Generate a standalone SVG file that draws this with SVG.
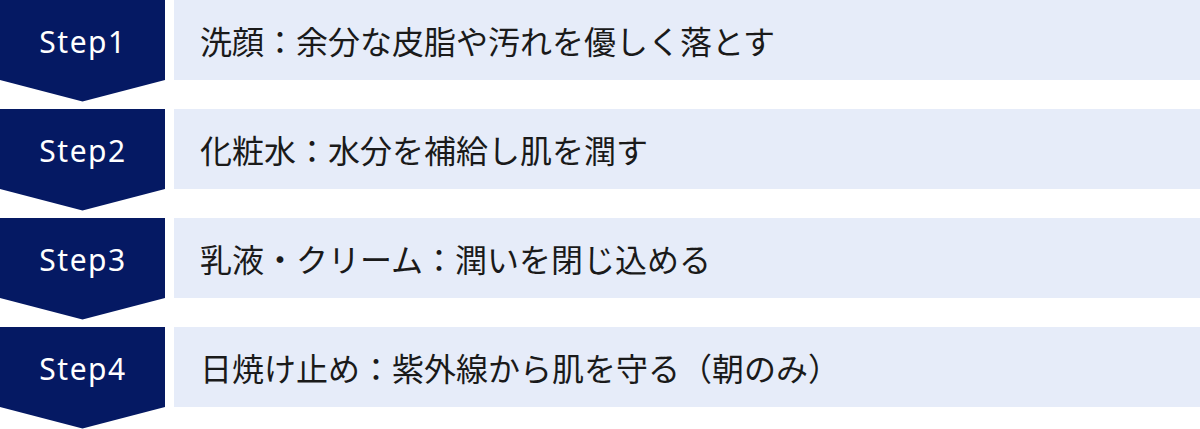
<svg xmlns="http://www.w3.org/2000/svg" width="1200" height="429" viewBox="0 0 1200 429">
<style>
.badge{fill:#051963}
.bar{fill:#E6ECF9}
.step{font-family:"Noto Sans","Open Sans",sans-serif;font-size:30px;fill:#ffffff;text-anchor:middle;letter-spacing:1.5px}
.label{font-family:"Noto Sans CJK JP","Noto Sans",sans-serif;font-size:32px;fill:#1a1a1a}
</style>
<defs>
<path id="chev" d="M0 0H165V80L82.5 101.5L0 80Z"/>
</defs>
<rect width="1200" height="429" fill="#ffffff"/>
<g id="step1">
<use href="#chev" class="badge"/>
<rect class="bar" x="174" y="0" width="1026" height="80"/>
<text class="step" x="83" y="53">Step1</text>
<text class="label" x="200" y="54">洗顔：余分な皮脂や汚れを優しく落とす</text>
</g>
<g id="step2" transform="translate(0,109)">
<use href="#chev" class="badge"/>
<rect class="bar" x="174" y="0" width="1026" height="80"/>
<text class="step" x="83" y="53">Step2</text>
<text class="label" x="200" y="54">化粧水：水分を補給し肌を潤す</text>
</g>
<g id="step3" transform="translate(0,218)">
<use href="#chev" class="badge"/>
<rect class="bar" x="174" y="0" width="1026" height="80"/>
<text class="step" x="83" y="53">Step3</text>
<text class="label" x="200" y="54">乳液・クリーム：潤いを閉じ込める</text>
</g>
<g id="step4" transform="translate(0,327)">
<use href="#chev" class="badge"/>
<rect class="bar" x="174" y="0" width="1026" height="80"/>
<text class="step" x="83" y="53">Step4</text>
<text class="label" x="200" y="54">日焼け止め：紫外線から肌を守る（朝のみ）</text>
</g>
<g id="connectors"/>
</svg>
